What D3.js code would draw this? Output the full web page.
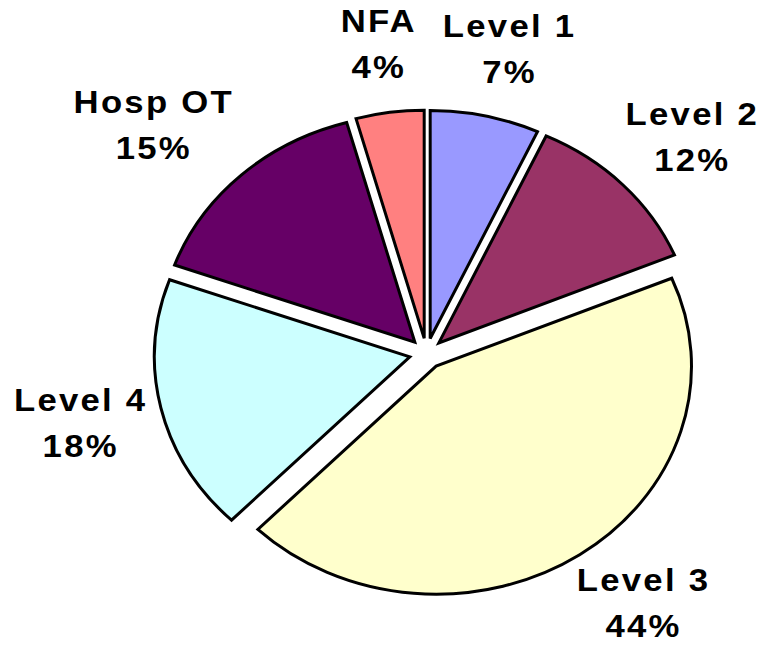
<!DOCTYPE html>
<html>
<head>
<meta charset="utf-8">
<script src="https://cdn.jsdelivr.net/npm/d3@7"></script>
<style>
  html, body { margin: 0; padding: 0; background: #fff; }
  text { font-family: Arial, "Liberation Sans", sans-serif; font-weight: bold; }
</style>
</head>
<body>
<svg id="chart" width="773" height="645"></svg>
<script>
// slice data (share of total, clockwise from 12 o'clock)
const categories = ["Level 1", "Level 2", "Level 3", "Level 4", "Hosp OT", "NFA"];
const shares = [6.9, 11.8, 43.6, 18.2, 15.2, 4.3];
const colors = ["#9999FF", "#993366", "#FFFFCC", "#CCFFFF", "#660066", "#FF8080"];

const width = 773, height = 645;
const cx = 426.5, cy = 353.5;
const radius = 228;
const stretch = 1.12;   // pie is drawn wider than tall
const explode = 15.3;
const labelGap = 278;

const svg = d3.select("#chart");
svg.append("rect").attr("width", width).attr("height", height).attr("fill", "#fff");

const pie = d3.pie().sort(null).value(d => d.value);
const arcs = pie(categories.map((c, i) => ({ name: c, value: shares[i], color: colors[i] })));
const arc = d3.arc().innerRadius(0).outerRadius(radius);

const root = svg.append("g")
    .attr("transform", `translate(${cx},${cy}) scale(${stretch},1)`);

root.selectAll("path")
    .data(arcs)
    .enter()
    .append("path")
    .attr("transform", d => {
        let a = (d.startAngle + d.endAngle) / 2;
        return `translate(${Math.sin(a) * explode},${-Math.cos(a) * explode})`;
    })
    .attr("d", arc)
    .attr("fill", d => d.data.color)
    .attr("stroke", "#000")
    .attr("stroke-width", 3)
    .attr("vector-effect", "non-scaling-stroke");

//labels: two lines, placed outside the slice, box edge facing the pie
const fontSize = 31, lineGap = 46, capH = 22, margin = 6;
const labels = svg.append("g");

arcs.forEach(d => {
    let a = (d.startAngle + d.endAngle) / 2;
    let g = labels.append("g");
    let inner = g.append("g").attr("transform", `scale(${stretch},1)`);
    inner.append("text")
        .attr("text-anchor", "middle")
        .attr("font-size", fontSize)
        .attr("letter-spacing", 2)
        .attr("y", 0)
        .text(d.data.name);
    inner.append("text")
        .attr("text-anchor", "middle")
        .attr("font-size", fontSize)
        .attr("letter-spacing", 2)
        .attr("y", lineGap)
        .text(Math.round(d.data.value) + "%");

    let box = g.node().getBBox();
    let hw = box.width * stretch / 2;
    let hh = (lineGap + capH) / 2;
    let x = cx + Math.sin(a) * (labelGap * stretch + hw);
    let y = cy - Math.cos(a) * (labelGap + hh);
    //keep the label inside the chart area
    x = Math.max(margin + hw, Math.min(width - margin - hw, x));
    let base = y - hh + capH;
    base = Math.min(height - 8 - lineGap, base);
    g.attr("transform", `translate(${x},${base})`);
});
</script>
</body>
</html>
